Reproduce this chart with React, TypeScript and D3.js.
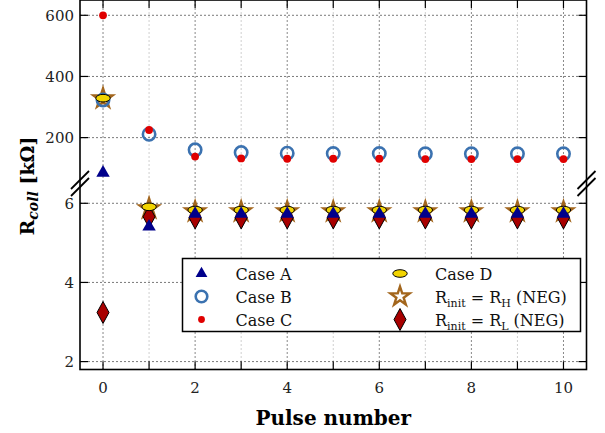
import * as d3 from "d3";
import { useEffect, useRef } from "react";

const pulses = [0, 1, 2, 3, 4, 5, 6, 7, 8, 9, 10];
// upper panel values in kΩ (>50), lower panel values (<6.5)
const caseA = [85, 5.41, 5.73, 5.73, 5.73, 5.73, 5.73, 5.73, 5.73, 5.73, 5.73];
const caseB = [323, 211, 160, 151, 149, 148, 148, 147, 147, 147, 147];
const caseC = [600, 225, 138, 132, 131, 131, 131, 130, 130, 130, 130];
const caseD = [329, 5.91, 5.83, 5.83, 5.83, 5.83, 5.83, 5.83, 5.83, 5.83, 5.83];
const negHigh = [328, 5.87, 5.79, 5.79, 5.79, 5.79, 5.79, 5.79, 5.79, 5.79, 5.79];
const negLow = [3.24, 5.66, 5.63, 5.63, 5.63, 5.63, 5.63, 5.63, 5.63, 5.63, 5.63];

const yTicks = [2, 4, 6, 200, 400, 600];
const xTicks = [0, 2, 4, 6, 8, 10];

const W = 605;
const H = 433;
const FONT = "'DejaVu Serif', serif";

const NAVY = "#00008b";
const BLUE = "#3b72b0";
const RED = "#e00000";
const YELLOW = "#f2d400";
const BROWN = "#a3661d";
const DARKRED = "#a80000";

export default function App() {
  const ref = useRef<SVGSVGElement | null>(null);

  useEffect(() => {
    const el = ref.current;
    if (!el) return;
    const svg = d3.select(el);
    svg.selectAll("*").remove();

    const left = 80;
    const right = 586.5;
    const top = 0;
    const bottom = 369.5;
    const brk = 183.5;

    const x = d3.scaleLinear().domain([-0.5, 10.5]).range([left, right]);
    // broken axis: lower part 1.8..6.5, upper part 50..650
    const y = d3
      .scaleLinear()
      .domain([1.8, 6.5, 50, 650])
      .range([bottom, brk, brk, top]);

    const g = svg.append("g");

    // grid
    g.selectAll(".vgrid")
      .data(pulses)
      .join("line")
      .attr("x1", (d) => x(d))
      .attr("x2", (d) => x(d))
      .attr("y1", top)
      .attr("y2", bottom)
      .attr("stroke", (d) => (d % 2 === 0 ? "#888" : "#cfcfcf"))
      .attr("stroke-width", 1)
      .attr("stroke-dasharray", "2,2");
    g.selectAll(".hgrid")
      .data(yTicks)
      .join("line")
      .attr("x1", left)
      .attr("x2", right)
      .attr("y1", (d) => y(d))
      .attr("y2", (d) => y(d))
      .attr("stroke", "#7a7a7a")
      .attr("stroke-width", 1)
      .attr("stroke-dasharray", "2,2");

    // ticks (inward)
    const tk = 8;
    pulses.forEach((p) => {
      g.append("line").attr("x1", x(p)).attr("x2", x(p)).attr("y1", bottom).attr("y2", bottom - tk).attr("stroke", "#000").attr("stroke-width", 1.2);
      g.append("line").attr("x1", x(p)).attr("x2", x(p)).attr("y1", top).attr("y2", top + tk).attr("stroke", "#000").attr("stroke-width", 1.2);
    });
    yTicks.forEach((v) => {
      g.append("line").attr("x1", left).attr("x2", left + tk).attr("y1", y(v)).attr("y2", y(v)).attr("stroke", "#000").attr("stroke-width", 1.2);
      g.append("line").attr("x1", right).attr("x2", right - tk).attr("y1", y(v)).attr("y2", y(v)).attr("stroke", "#000").attr("stroke-width", 1.2);
    });

    // markers
    const star = d3.symbol(d3.symbolStar, 112)();
    const tri = d3.symbol(d3.symbolTriangle, 78)();
    const diamond = "M0,-11L6,0L0,11L-6,0Z";

    const drawStar = (sel: d3.Selection<SVGGElement, unknown, null, undefined>, cx: number, cy: number) =>
      sel.append("path").attr("d", star).attr("transform", `translate(${cx},${cy})`).attr("fill", "none").attr("stroke", BROWN).attr("stroke-width", 2.4).attr("stroke-linejoin", "miter");
    const drawDiamond = (sel: d3.Selection<SVGGElement, unknown, null, undefined>, cx: number, cy: number) =>
      sel.append("path").attr("d", diamond).attr("transform", `translate(${cx},${cy})`).attr("fill", DARKRED).attr("stroke", "#000").attr("stroke-width", 1);
    const drawCircle = (sel: d3.Selection<SVGGElement, unknown, null, undefined>, cx: number, cy: number) =>
      sel.append("circle").attr("cx", cx).attr("cy", cy).attr("r", 6.2).attr("fill", "none").attr("stroke", BLUE).attr("stroke-width", 2.6);
    const drawEllipse = (sel: d3.Selection<SVGGElement, unknown, null, undefined>, cx: number, cy: number) =>
      sel.append("ellipse").attr("cx", cx).attr("cy", cy).attr("rx", 7.2).attr("ry", 3.8).attr("fill", YELLOW).attr("stroke", "#000").attr("stroke-width", 1);
    const drawDot = (sel: d3.Selection<SVGGElement, unknown, null, undefined>, cx: number, cy: number) =>
      sel.append("circle").attr("cx", cx).attr("cy", cy).attr("r", 3.9).attr("fill", RED);
    const drawTri = (sel: d3.Selection<SVGGElement, unknown, null, undefined>, cx: number, cy: number) =>
      sel.append("path").attr("d", tri).attr("transform", `translate(${cx},${cy})`).attr("fill", NAVY);

    const mk = svg.append("g") as d3.Selection<SVGGElement, unknown, null, undefined>;
    pulses.forEach((p, i) => drawStar(mk, x(p), y(negHigh[i])));
    pulses.forEach((p, i) => drawDiamond(mk, x(p), y(negLow[i])));
    pulses.forEach((p, i) => drawCircle(mk, x(p), y(caseB[i])));
    pulses.forEach((p, i) => drawEllipse(mk, x(p), y(caseD[i])));
    pulses.forEach((p, i) => drawDot(mk, x(p), y(caseC[i])));
    pulses.forEach((p, i) => drawTri(mk, x(p), y(caseA[i])));

    // spines
    const sp = svg.append("g").attr("stroke", "#000").attr("stroke-width", 1.6).attr("fill", "none");
    sp.append("rect").attr("x", left).attr("y", top).attr("width", right - left).attr("height", bottom - top);

    // break marks
    [left, right].forEach((sx) => {
      [-3.5, 3.5].forEach((off) => {
        svg.append("line")
          .attr("x1", sx - 9).attr("y1", brk + off + 9)
          .attr("x2", sx + 9).attr("y2", brk + off - 9)
          .attr("stroke", "#000").attr("stroke-width", 1.8);
      });
    });

    // tick labels
    svg.append("g")
      .selectAll("text")
      .data(yTicks)
      .join("text")
      .attr("x", left - 6)
      .attr("y", (d) => y(d) + 5.5)
      .attr("text-anchor", "end")
      .attr("font-family", FONT)
      .attr("font-size", 15)
      .attr("fill", "#222")
      .text((d) => String(d));
    svg.append("g")
      .selectAll("text")
      .data(xTicks)
      .join("text")
      .attr("x", (d) => x(d))
      .attr("y", 393)
      .attr("text-anchor", "middle")
      .attr("font-family", FONT)
      .attr("font-size", 15)
      .attr("fill", "#222")
      .text((d) => String(d));

    // axis labels
    svg.append("text")
      .attr("x", (left + right) / 2)
      .attr("y", 425)
      .attr("text-anchor", "middle")
      .attr("font-family", FONT)
      .attr("font-size", 20)
      .attr("font-weight", "bold")
      .text("Pulse number");

    const yl = svg.append("text")
      .attr("transform", `translate(34,186) rotate(-90)`)
      .attr("text-anchor", "middle")
      .attr("font-family", FONT)
      .attr("font-size", 19)
      .attr("font-weight", "bold");
    yl.append("tspan").text("R");
    yl.append("tspan").attr("font-size", 14).attr("font-style", "italic").attr("dy", 4).text("coll");
    yl.append("tspan").attr("dy", -4).text(" [kΩ]");

    // legend
    const lg = svg.append("g");
    lg.append("rect")
      .attr("x", 182.5).attr("y", 258.5).attr("width", 398).attr("height", 73)
      .attr("fill", "#fff").attr("stroke", "#000").attr("stroke-width", 1.5);
    const rows = [273.5, 296.5, 319.5];
    const c1m = 201.5, c1t = 235.5, c2m = 400, c2t = 435;
    const lgG = lg.append("g") as d3.Selection<SVGGElement, unknown, null, undefined>;
    lgG.append("path").attr("d", d3.symbol(d3.symbolTriangle, 60)()).attr("transform", `translate(${c1m},${rows[0]})`).attr("fill", NAVY);
    lgG.append("circle").attr("cx", c1m).attr("cy", rows[1]).attr("r", 5.8).attr("fill", "none").attr("stroke", BLUE).attr("stroke-width", 2.6);
    lgG.append("circle").attr("cx", c1m).attr("cy", rows[2]).attr("r", 3.4).attr("fill", RED);
    drawEllipse(lgG, c2m, rows[0]);
    drawStar(lgG, c2m, rows[1]);
    drawDiamond(lgG, c2m, rows[2]);

    const lt = (xx: number, yy: number) =>
      lg.append("text").attr("x", xx).attr("y", yy + 6).attr("font-family", FONT).attr("font-size", 16).attr("fill", "#111");
    lt(c1t, rows[0]).text("Case A");
    lt(c1t, rows[1]).text("Case B");
    lt(c1t, rows[2]).text("Case C");
    lt(c2t, rows[0]).text("Case D");
    [["H", rows[1]], ["L", rows[2]]].forEach(([sub, yy]) => {
      const t = lt(c2t, yy as number);
      t.append("tspan").text("R");
      t.append("tspan").attr("font-size", 11).attr("dy", 4).text("init");
      t.append("tspan").attr("dy", -4).text(" = R");
      t.append("tspan").attr("font-size", 11).attr("dy", 4).text(sub as string);
      t.append("tspan").attr("dy", -4).text(" (NEG)");
    });
  }, []);

  return (
    <svg
      ref={ref}
      width={W}
      height={H}
      style={{ position: "absolute", left: 0, top: 0, background: "#fff" }}
    />
  );
}
